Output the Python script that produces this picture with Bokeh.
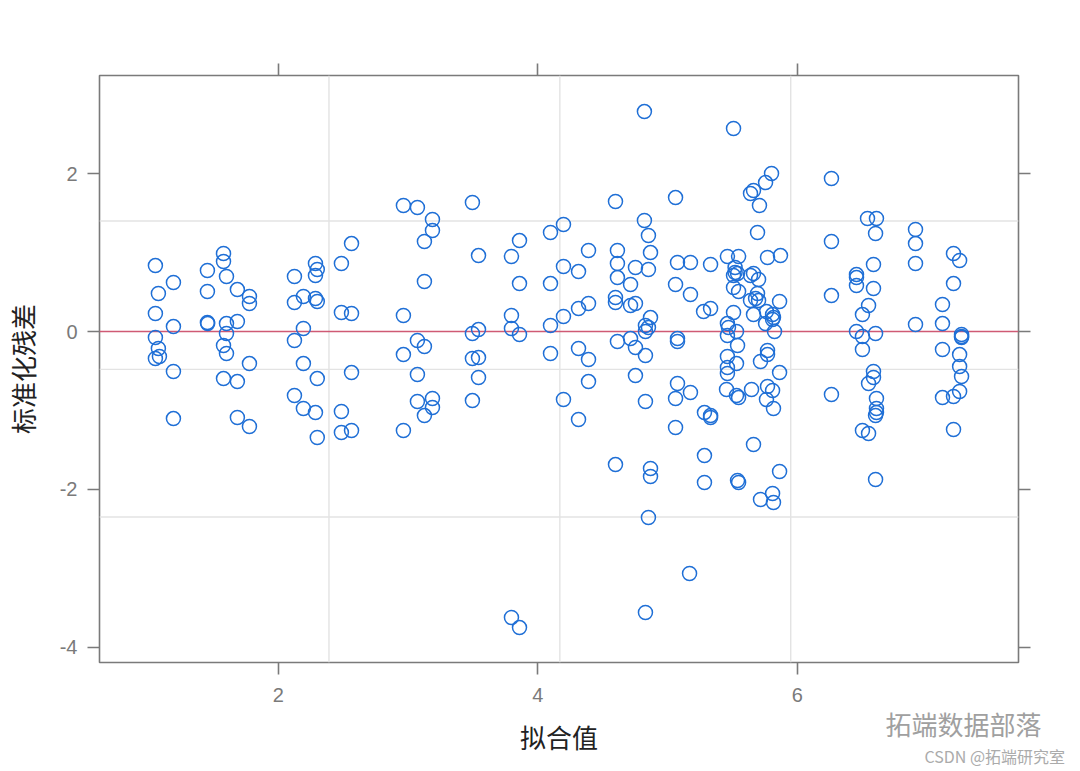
from bokeh.plotting import figure
from bokeh.models import LinearAxis, FixedTicker, Span, Range1d, Label
from bokeh.embed import file_html
from bokeh.resources import INLINE

# ---- data ----
fitted_values = [
    # ~1.0-1.2
    1.052, 1.191, 1.075, 1.052, 1.191, 1.052, 1.075, 1.052, 1.083, 1.191, 1.191,
    # ~1.45-1.78
    1.453, 1.577, 1.577, 1.600, 1.453, 1.453, 1.455, 1.600, 1.684, 1.600,
    1.577, 1.600, 1.684, 1.777, 1.777, 1.777, 1.577, 1.684, 1.684, 1.777,
    # ~2.1-2.3
    2.124, 2.286, 2.300, 2.286, 2.193, 2.124, 2.286, 2.300, 2.193, 2.124,
    2.193, 2.300, 2.124, 2.193, 2.286, 2.300,
    # ~2.5
    2.564, 2.486, 2.486, 2.564, 2.564, 2.486, 2.486, 2.564,
    # ~3.0-3.2
    2.964, 3.072, 3.188, 3.188, 3.126, 3.126, 2.964, 3.072, 3.126, 2.964,
    3.072, 3.072, 3.188, 3.188, 3.126, 2.964,
    # ~3.5
    3.496, 3.543, 3.496, 3.543, 3.496, 3.543, 3.543, 3.496,
    # ~3.8
    3.859, 3.797, 3.859, 3.797, 3.797, 3.859, 3.797, 3.859,
    # ~4.1-4.4
    4.098, 4.198, 4.198, 4.098, 4.198, 4.098, 4.098, 4.314, 4.391, 4.314,
    4.391, 4.314, 4.391, 4.391, 4.198, 4.314,
    # ~4.6-4.9
    4.599, 4.614, 4.614, 4.614, 4.599, 4.599, 4.614, 4.599, 4.753, 4.715,
    4.715, 4.753, 4.715, 4.753, 4.753, 4.822, 4.822, 4.853, 4.869, 4.853,
    4.869, 4.830, 4.853, 4.830, 4.830, 4.830, 4.869, 4.869, 4.853, 4.830,
    5.170,
    # ~5.05-5.33
    5.062, 5.077, 5.177, 5.332, 5.062, 5.177, 5.278, 5.332, 5.077, 5.077,
    5.077, 5.062, 5.177, 5.062, 5.285, 5.332, 5.332, 5.285, 5.285,
    # ~5.45-5.55
    5.509, 5.462, 5.548, 5.521, 5.521, 5.509, 5.540, 5.509, 5.548, 5.509,
    5.462, 5.470, 5.462, 5.532, 5.540, 5.462, 5.532, 5.462, 5.462, 5.455,
    5.532, 5.548, 5.540, 5.548,
    # ~5.64-5.87
    5.640, 5.663, 5.709, 5.756, 5.802, 5.694, 5.771, 5.871, 5.640, 5.663,
    5.702, 5.694, 5.679, 5.702, 5.640, 5.864, 5.663, 5.763, 5.810, 5.756,
    5.817, 5.810, 5.825, 5.717, 5.771, 5.771, 5.864, 5.648, 5.771, 5.810,
    5.763, 5.817, 5.663, 5.864, 5.717, 5.810, 5.817,
    # ~6.26
    6.264, 6.264, 6.264, 6.264,
    # ~6.45-6.61
    6.542, 6.611, 6.604, 6.588, 6.457, 6.457, 6.457, 6.588, 6.550, 6.503,
    6.457, 6.503, 6.604, 6.503, 6.588, 6.588, 6.550, 6.611, 6.611, 6.611,
    6.604, 6.503, 6.550, 6.604,
    # ~6.9
    6.912, 6.912, 6.912, 6.912,
    # ~7.1-7.27
    7.120, 7.120, 7.120, 7.120, 7.205, 7.252, 7.205, 7.205, 7.252, 7.205,
    7.267, 7.267, 7.267, 7.252, 7.252, 7.267,
]

std_residuals = [
    0.836, 0.621, 0.482, 0.228, 0.063, -0.076, -0.215, -0.342, -0.317, -0.507, -1.103,
    0.773, 0.989, 0.887, 0.697, 0.507, 0.114, 0.101, 0.101, 0.127, -0.025,
    -0.177, -0.279, 0.532, 0.444, 0.355, -0.406, -0.596, -0.634, -1.090, -1.204,
    0.697, 0.862, 0.786, 0.710, 0.444, 0.368, 0.418, 0.380, 0.038, -0.114,
    -0.406, -0.596, -0.811, -0.976, -1.027, -1.343,
    1.115, 0.862, 0.241, 0.228, -0.520, -1.014, -1.280, -1.255,
    1.597, 1.572, 1.420, 1.280, 1.141, 0.634, 0.203, -0.114, -0.190, -0.292,
    -0.545, -0.887, -0.849, -0.963, -1.065, -1.255,
    1.635, 0.963, -0.025, 0.025, -0.342, -0.330, -0.583, -0.875,
    1.153, 0.951, 0.608, 0.203, 0.038, -0.038, -3.625, -3.752,
    1.255, 1.356, 0.824, 0.608, 0.190, 0.076, -0.279, 0.760, 1.027, 0.292,
    0.355, -0.215, -0.355, -0.634, -0.862, -1.115,
    1.648, 1.027, 0.862, 0.684, 0.431, 0.368, -0.127, -1.686, 0.811, 0.596,
    0.330, 0.355, -0.089, -0.203, -0.558, 2.788, 1.407, 1.217, 1.001, 0.786,
    0.177, 0.076, 0.051, 0.000, -0.304, -0.887, -1.736, -1.838, -2.357, -3.561,
    -3.067,
    1.698, 0.875, 0.875, 0.849, 0.596, 0.469, 0.253, 0.292, -0.089, -0.127,
    -0.659, -0.849, -0.773, -1.217, -1.027, -1.065, -1.090, -1.572, -1.914,
    2.573, 0.951, 0.951, 0.811, 0.748, 0.710, 0.735, 0.558, 0.507, 0.241,
    0.101, 0.051, -0.051, 0.000, -0.177, -0.317, -0.406, -0.456, -0.532, -0.735,
    -0.811, -0.837, -1.888, -1.914,
    1.749, 1.787, 1.597, 1.888, 2.003, 1.255, 0.938, 0.963, 0.710, 0.735,
    0.659, 0.482, 0.418, 0.393, 0.393, 0.380, 0.215, 0.253, 0.215, 0.101,
    0.177, 0.152, 0.000, -0.380, -0.241, -0.292, -0.520, -0.735, -0.697, -0.748,
    -0.862, -0.976, -1.432, -1.774, -2.129, -2.053, -2.167,
    1.939, 1.141, 0.456, -0.798,
    1.432, 1.432, 1.242, 0.849, 0.722, 0.684, 0.583, 0.545, 0.330, 0.215,
    0.000, -0.063, -0.025, -0.228, -0.507, -0.583, -0.659, -0.849, -0.976, -1.027,
    -1.065, -1.255, -1.293, -1.876,
    1.293, 1.115, 0.862, 0.089,
    0.342, 0.101, -0.228, -0.837, 0.989, 0.900, 0.608, -0.824, -0.760, -1.242,
    -0.038, -0.063, -0.076, -0.292, -0.444, -0.570,
]

x_ticks = [2, 4, 6]
x_tick_labels = ["2", "4", "6"]
y_ticks = [-4, -2, 0, 2]
y_tick_labels = ["-4", "-2", "0", "2"]
grid_x = [2.39, 4.17, 5.95]
grid_y = [1.40, -0.48, -2.35]
reference_y = 0

x_title = "拟合值"
y_title = "标准化残差"
watermark_main = "拓端数据部落"
watermark_sub = "CSDN @拓端研究室"

GREY = "#7a7a7a"
CJK = "Noto Sans CJK SC"
LAT = "Liberation Sans"

p = figure(width=1076, height=771, output_backend="svg", toolbar_location=None,
           x_range=Range1d(0.621, 7.706), y_range=Range1d(-4.195, 3.245),
           x_axis_location=None, y_axis_location=None,
           min_border_left=99, min_border_right=58, min_border_top=75, min_border_bottom=109)
p.background_fill_color = "white"
p.border_fill_color = "white"
p.xgrid.visible = False
p.ygrid.visible = False
p.outline_line_color = GREY
p.outline_line_width = 1.6


def style(ax, ticks, labels, show):
    ax.ticker = FixedTicker(ticks=ticks)
    ax.axis_line_color = None
    ax.major_tick_line_color = GREY
    ax.major_tick_line_width = 1.6
    ax.major_tick_out = 12
    ax.major_tick_in = 0
    ax.minor_tick_line_color = None
    ax.major_label_text_color = GREY
    ax.major_label_text_font = LAT
    if show:
        ax.major_label_overrides = {t: l for t, l in zip(ticks, labels)}
        ax.major_label_text_font_size = "20px"
    else:
        ax.major_label_overrides = {t: "" for t in ticks}
        ax.major_label_text_font_size = "1px"
        ax.major_label_standoff = 0


xb = LinearAxis(axis_label=x_title)
style(xb, x_ticks, x_tick_labels, True)
xb.major_label_standoff = 13
xb.axis_label_text_font = CJK
xb.axis_label_text_font_size = "26px"
xb.axis_label_text_font_style = "normal"
xb.axis_label_text_color = "#222222"
xb.axis_label_standoff = 13
p.add_layout(xb, "below")

yl = LinearAxis(axis_label=y_title)
style(yl, y_ticks, y_tick_labels, True)
yl.major_label_standoff = 10
yl.major_label_orientation = "horizontal"
yl.axis_label_text_font = CJK
yl.axis_label_text_font_size = "26px"
yl.axis_label_text_font_style = "normal"
yl.axis_label_text_color = "#222222"
yl.axis_label_standoff = 16
p.add_layout(yl, "left")

xt = LinearAxis()
style(xt, x_ticks, x_tick_labels, False)
p.add_layout(xt, "above")

yr = LinearAxis()
style(yr, y_ticks, y_tick_labels, False)
p.add_layout(yr, "right")

for gx in grid_x:
    p.add_layout(Span(location=gx, dimension="height", line_color="#e3e3e3",
                      line_width=1.4, level="underlay"))
for gy in grid_y:
    p.add_layout(Span(location=gy, dimension="width", line_color="#e3e3e3",
                      line_width=1.4, level="underlay"))

p.add_layout(Span(location=reference_y, dimension="width", line_color="#cf5a74",
                  line_width=1.5, level="underlay"))

p.scatter(fitted_values, std_residuals, marker="circle", size=14,
          fill_color=None, line_color="#1f6fd6", line_width=1.5)

# watermark texts placed in the top side panel (screen offsets relative to their panel)
p.add_layout(Label(x=786, y=-660, x_units="screen", y_units="screen",
                   text=watermark_main, text_font=CJK,
                   text_font_size="26px", text_color="#a0a0a0",
                   text_baseline="middle", text_align="left"), "above")
p.add_layout(Label(x=825, y=-729, x_units="screen", y_units="screen",
                   text=watermark_sub, text_font=CJK,
                   text_font_size="16px", text_color="#ababab",
                   text_baseline="middle", text_align="left"), "above")

open("out.html", "w").write(file_html(p, INLINE))
